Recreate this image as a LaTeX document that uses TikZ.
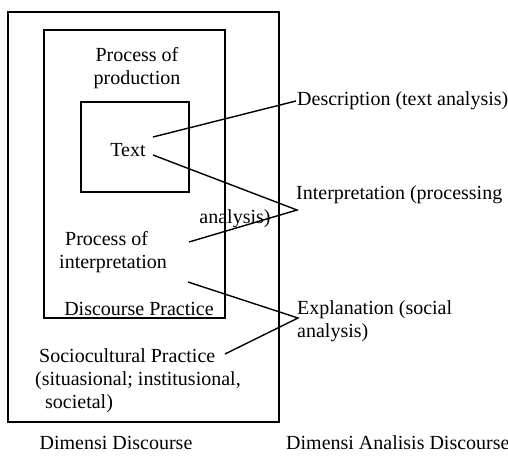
\documentclass[tikz,border=0pt]{standalone}
\usepackage{fontspec}
\setmainfont{Liberation Serif}
\usetikzlibrary{positioning}

\begin{document}
\begin{tikzpicture}[
    x=1pt, y=-1pt,
    font=\fontsize{20}{23}\selectfont,
    frame/.style={line width=1.4pt},
    lbl/.style={inner sep=1pt, align=center},
    link/.style={line width=1.4pt},
  ]

  \useasboundingbox (0,0) rectangle (508,458);

  % ---- the three nested practices ---------------------------------------
  \draw[frame] (8,12)   rectangle (279,422);   % sociocultural
  \draw[frame] (44,30)  rectangle (225,318);   % discourse practice
  \draw[frame] (81,102) rectangle (189,192);   % text

  % ---- labels inside the boxes ------------------------------------------
  \node[lbl] (prod)   at (137,68)  {Process of\\production};
  \node[lbl] (txt)    at (128,150) {Text};
  \node[lbl, align=left, anchor=west] (interp) at (58,252)
       {\hspace{6pt}Process of\\interpretation};
  \node[lbl] (dp)     at (139,309) {Discourse Practice};
  \node[lbl, align=left, anchor=west] (scp) at (34,381)
       {\hspace{4pt}Sociocultural Practice\\(situasional; institusional,\\\hspace{10pt}societal)};

  % ---- dimensions of analysis -------------------------------------------
  \node[lbl, anchor=west] (desc)  at (296,101) {Description (text analysis)};
  \node[lbl, anchor=west] (intp)  at (295,195) {Interpretation (processing};
  \node[lbl]              (intp2) at (235,219) {analysis)};
  \node[lbl, align=left, anchor=west] (expl) at (296,321)
       {Explanation (social\\analysis)};

  \node[lbl]              (dimD) at (116,443) {Dimensi Discourse};
  \node[lbl, anchor=west] (dimA) at (285,443) {Dimensi Analisis Discourse};

  % ---- connectors -------------------------------------------------------
  \coordinate (txtA)    at (153,137);
  \coordinate (txtB)    at (153,155);
  \coordinate (interpA) at (189,242);
  \coordinate (interpB) at (188,282);
  \coordinate (scpA)    at (225,354);
  \coordinate (intpP)   at (297,210);
  \coordinate (explP)   at (298,318);

  \draw[link] (txtA) -- (desc.west);
  \draw[link] (txtB) -- (intpP) -- (interpA);
  \draw[link] (interpB) -- (explP) -- (scpA);

\end{tikzpicture}
\end{document}
